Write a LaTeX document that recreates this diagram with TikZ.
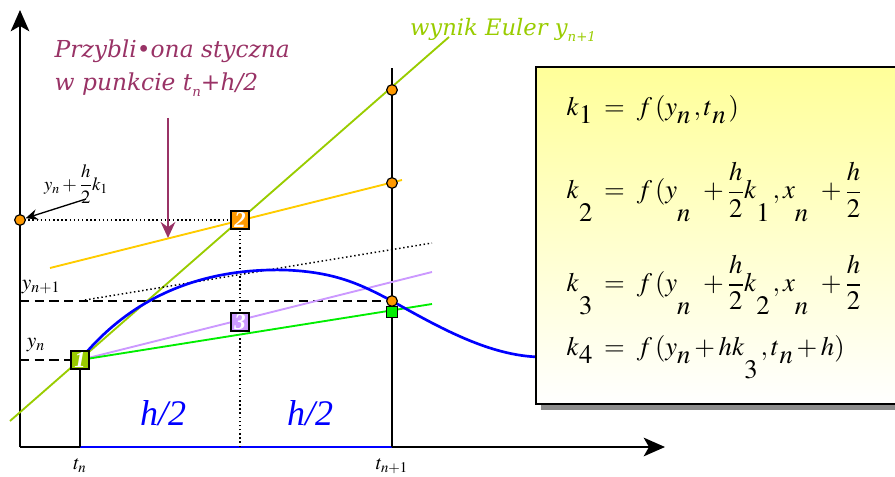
\documentclass[tikz,border=0pt]{standalone}
\usepackage{amsmath}
\usepackage{mathptmx}
\usepackage{fontspec}
\setmainfont{Liberation Serif}
\newfontfamily\notefont{DejaVu Serif}
\usetikzlibrary{arrows.meta}
\definecolor{plum}{HTML}{993366}
\definecolor{lime}{HTML}{99CC00}
\definecolor{amber}{HTML}{FFCC00}
\definecolor{tangerine}{HTML}{FF9900}
\definecolor{lilac}{HTML}{CC99FF}
\definecolor{leaf}{HTML}{00EE00}
\definecolor{boxyellow}{HTML}{FFFF99}
\newcommand{\dn}[2][0.3em]{\raisebox{-#1}{$#2$}}
\newcommand{\notesub}[1]{\raisebox{-0.25em}{\fontsize{10}{10}\selectfont #1}}
\tikzset{
  marker/.style={draw=black, line width=1.2pt, minimum size=13.5pt, inner sep=0pt,
    text=white, font=\bfseries\itshape\fontsize{17}{17}\selectfont},
  knot/.style={circle, draw=black, fill=tangerine, line width=0.9pt,
    minimum size=8pt, inner sep=0pt},
  axis/.style={line width=1.3pt, -{Stealth[length=16pt,width=14pt,inset=4pt]}},
  note/.style={text=plum, font=\notefont\itshape\fontsize{17.5}{25}\selectfont, align=left},
  formula/.style={anchor=west, font=\fontsize{20}{24}\selectfont}
}
\begin{document}
\begin{tikzpicture}[x=0.75pt, y=-0.75pt]
    \useasboundingbox (0,0) rectangle (895,477);
    % points
    \coordinate (O) at (20,447);
    \coordinate (tn) at (80,447);
    \coordinate (tm) at (240,447);
    \coordinate (tk) at (392,447);
    % axes
    \draw[axis] (O) -- (20,10);
    \draw[axis] (O) -- (665,447);
    \draw[blue, line width=2pt] (tn) -- (tk);
    % guide lines
    \draw[line width=1.3pt] (tn) -- (80,360);
    \draw[line width=1.3pt] (tk) -- (392,68);
    \draw[dotted, line width=1.1pt] (tm) -- (240,220);
    \draw[dotted, line width=1.1pt] (20,220) -- (240,220);
    \draw[dashed, line width=1.2pt, dash pattern=on 7pt off 4pt] (20,360) -- (80,360);
    \draw[dashed, line width=1.2pt, dash pattern=on 7pt off 4pt] (20,301) -- (392,301);
    % tangents
    \draw[lime, line width=1.4pt] (10,421) -- (449,37);
    \draw[amber, line width=1.4pt] (50,268) -- (402,180);
    \draw[dotted, line width=1.1pt] (85,300) -- (432,243);
    \draw[lilac, line width=1.4pt] (80,360) -- (432,272);
    \draw[leaf, line width=1.4pt] (80,360) -- (432,304);
    % solution
    \draw[blue, line width=2pt] (80,360) .. controls (130,298) and (200,268) .. (285,270)
        .. controls (335,272) and (360,284) .. (392,301)
        .. controls (440,328) and (490,356) .. (540,357);
    % markers
    \node[knot] (y2) at (20,220) {};
    \node[knot] (e1) at (392,90) {};
    \node[knot] (e2) at (392,183) {};
    \node[knot] (e3) at (392,301) {};
    \node[marker, fill=lime] (m1) at (80,360) {1};
    \node[marker, fill=tangerine] (m2) at (240,220) {2};
    \node[marker, fill=lilac] (m3) at (240,322) {3};
    \node[marker, fill=leaf, minimum size=8pt, line width=1pt] (m4) at (392,312) {};
    % labels
    \node[note, anchor=north west] (tip) at (50,35) {Przybli•ona styczna\\w punkcie t\notesub{n}+h/2};
    \draw[plum, line width=1.6pt, -{Stealth[length=12pt,width=11pt]}] (168,118) -- (168,238);
    \node[text=lime, font=\notefont\itshape\fontsize{17}{17}\selectfont] (euler) at (503,30) {wynik Euler y\notesub{n+1}};
    \node[font=\fontsize{14}{14}\selectfont] (half) at (76,184) {$y_n+\dfrac{h}{2}k_1$};
    \draw[line width=1pt, -{Stealth[length=9pt,width=8pt]}] (86,199) -- (y2);
    \node[font=\fontsize{16}{16}\selectfont] at (41,287) {$y_{n+1}$};
    \node[font=\fontsize{16}{16}\selectfont] at (36,345) {$y_n$};
    \node[font=\fontsize{15}{15}\selectfont] at (80,466) {$t_n$};
    \node[font=\fontsize{15}{15}\selectfont] at (392,466) {$t_{n+1}$};
    \node[blue, font=\itshape\fontsize{27}{27}\selectfont] at (163,413) {h/2};
    \node[blue, font=\itshape\fontsize{27}{27}\selectfont] at (310,413) {h/2};
    % formulas
    \fill[gray!90] (541,72) rectangle (910,410);
    \draw[top color=boxyellow, bottom color=white, line width=1pt] (536,67) rectangle (910,404);
    \node[formula] (k1) at (562,110) {$k\dn{1} \;=\; f\,(y\dn{n}\,,t\dn{n}\,)$};
    \node[formula] (k2) at (562,192) {$k\dn[0.85em]{2} \;=\; f\,(y\dn[0.85em]{n}\;\, + \dfrac{h}{2}k\dn[0.85em]{1}\,, x\dn[0.85em]{n}\;\, + \dfrac{h}{2}$};
    \node[formula] (k3) at (562,285) {$k\dn[0.85em]{3} \;=\; f\,(y\dn[0.85em]{n}\;\, + \dfrac{h}{2}k\dn[0.85em]{2}\,, x\dn[0.85em]{n}\;\, + \dfrac{h}{2}$};
    \node[formula] (k4) at (562,357) {$k\dn{4} \;=\; f\,(y\dn{n} + hk\dn[0.85em]{3}\,,t\dn{n} + h)$};
\end{tikzpicture}
\end{document}
